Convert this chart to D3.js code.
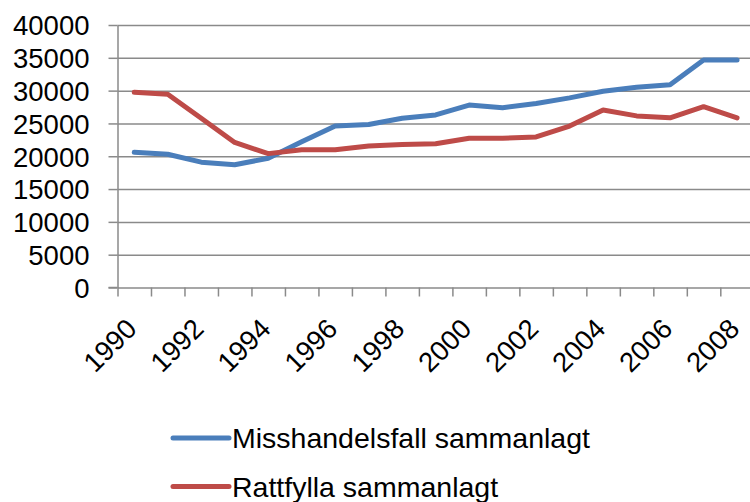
<!DOCTYPE html>
<html>
<head>
<meta charset="utf-8">
<script src="https://cdn.jsdelivr.net/npm/d3@7"></script>
<style>
  body { margin: 0; background: #fff; }
  svg { display: block; font-family: "Liberation Sans", Arial, sans-serif; }
  .grid line { stroke: #8a8a8a; stroke-width: 1.5; }
  .grid path { display: none; }
  .axis path, .axis line { stroke: #8a8a8a; stroke-width: 1.5; }
  .axis text { fill: #000; }
</style>
</head>
<body>
<div id="container"></div>
<script>
/* Data */
var years = d3.range(1990, 2009);
var misshandel = [20600, 20300, 19100, 18700, 19700, 22200, 24600, 24850, 25800, 26300,
                  27800, 27400, 28050, 28900, 29900, 30500, 30900, 34650, 34650];
var rattfylla = [29750, 29450, 25800, 22100, 20400, 21000, 21000, 21550, 21800, 21900,
                 22750, 22750, 22950, 24600, 27050, 26150, 25850, 27550, 25850];
var yTicks = [0, 5000, 10000, 15000, 20000, 25000, 30000, 35000, 40000];
var labelYears = [1990, 1992, 1994, 1996, 1998, 2000, 2002, 2004, 2006, 2008];
var series = [
  { name: "Misshandelsfall sammanlagt", values: misshandel, color: "#4a7ebb" },
  { name: "Rattfylla sammanlagt", values: rattfylla, color: "#be4b48" }
];

var w = 750, h = 502;
var plot = { left: 117.5, right: 753.8, top: 25, bottom: 287.5 };

var svg = d3.select("#container").append("svg")
  .attr("width", w)
  .attr("height", h);

/* Scales */
var xScale = d3.scaleBand()
  .domain(years)
  .range([plot.left, plot.right])
  .padding(0);
var xEdge = d3.scaleLinear()
  .domain([0, years.length])
  .range([plot.left, plot.right]);
var yScale = d3.scaleLinear()
  .domain([0, 40000])
  .range([plot.bottom, plot.top]);

/* Gridlines */
svg.append("g")
  .classed("grid", true)
  .attr("transform", "translate(" + plot.left + ",0)")
  .call(d3.axisLeft(yScale).tickValues(yTicks.slice(1)).tickSize(-(plot.right - plot.left)).tickFormat(""));

/* Y-Axis */
svg.append("g")
  .classed("axis", true)
  .attr("transform", "translate(" + plot.left + ",0)")
  .call(d3.axisLeft(yScale).tickValues(yTicks).tickSize(9).tickSizeOuter(0).tickPadding(19).tickFormat(d3.format("d")))
  .selectAll("text")
    .style("font-size", "27.5px")
    .attr("dy", "0.36em");

/* X-Axis (tick marks between categories) */
svg.append("g")
  .classed("axis", true)
  .attr("transform", "translate(0," + plot.bottom + ")")
  .call(d3.axisBottom(xEdge).tickValues(d3.range(years.length + 1)).tickSize(9).tickSizeOuter(0).tickFormat(""));

svg.append("line")
  .attr("x1", plot.left - 9).attr("x2", plot.left)
  .attr("y1", plot.bottom).attr("y2", plot.bottom)
  .attr("stroke", "#8a8a8a").attr("stroke-width", 1.5);

/* X labels, rotated */
svg.append("g")
  .selectAll("text")
  .data(labelYears)
  .enter().append("text")
    .attr("transform", d => "translate(" + (xScale(d) + xScale.bandwidth() / 2 + 4) + "," + (plot.bottom + 43) + ") rotate(-45)")
    .attr("text-anchor", "end")
    .style("font-size", "27.5px")
    .text(d => d);

/* Lines */
var line = d3.line()
  .x((d, i) => xScale(years[i]) + xScale.bandwidth() / 2)
  .y(d => yScale(d));

svg.append("g")
  .selectAll("path")
  .data(series)
  .enter().append("path")
    .attr("d", d => line(d.values))
    .attr("fill", "none")
    .attr("stroke", d => d.color)
    .attr("stroke-width", 5)
    .attr("stroke-linejoin", "round")
    .attr("stroke-linecap", "round");

/* Legend */
var legend = svg.append("g")
  .selectAll("g")
  .data(series)
  .enter().append("g")
    .attr("transform", (d, i) => "translate(173," + (438 + i * 48.5) + ")");

legend.append("line")
  .attr("x1", 0).attr("x2", 56)
  .attr("y1", 0).attr("y2", 0)
  .attr("stroke", d => d.color)
  .attr("stroke-width", 5)
  .attr("stroke-linecap", "round");

legend.append("text")
  .attr("x", 59)
  .attr("y", 10)
  .style("font-size", "28.5px")
  .text(d => d.name);
</script>
</body>
</html>
